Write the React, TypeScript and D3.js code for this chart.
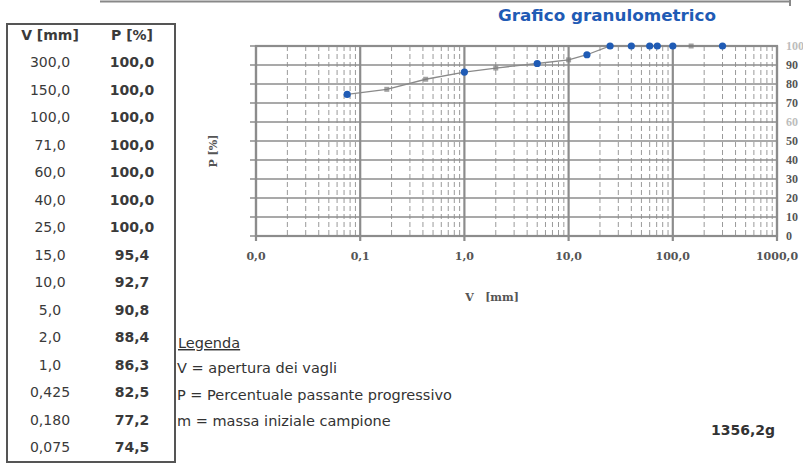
import React from 'react'
import * as d3 from 'd3'

// sieve data (V = opening in mm, P = % passing)
const sieveSizes = [300, 150, 100, 71, 60, 40, 25, 15, 10, 5, 2, 1, 0.425, 0.18, 0.075]
const passing = [100, 100, 100, 100, 100, 100, 100, 95.4, 92.7, 90.8, 88.4, 86.3, 82.5, 77.2, 74.5]
// markers that came out grey on the scan
const fadedSieves = [150, 10, 2, 0.425, 0.18]

const xDecades = [0.01, 0.1, 1, 10, 100, 1000]
const yTicks = [0, 10, 20, 30, 40, 50, 60, 70, 80, 90, 100]
const fadedYTicks = [60, 100]

const legendLines = [
  'V = apertura dei vagli',
  'P = Percentuale passante progressivo',
  'm = massa iniziale campione',
]
const sampleMass = '1356,2g'

const W = 803
const H = 472
const plot = { left: 256, right: 777, top: 46, bottom: 236 }

const comma = (s: string) => s.replace('.', ',')
const fmtV = (v: number) => comma(v >= 1 ? v.toFixed(1) : v.toFixed(3))
const fmtP = (p: number) => comma(p.toFixed(1))
const fmtAxis = (v: number) => comma(d3.format('.1f')(v))

const GRID = '#8c8c8c'
const BLUE = '#1f5bb5'
const TXT = '#3a3a3a'

export default function App() {
  const x = d3.scaleLog().domain([0.01, 1000]).range([plot.left, plot.right])
  const y = d3.scaleLinear().domain([0, 100]).range([plot.bottom, plot.top])

  // minor log lines 2..9 in each decade
  const minor: number[] = []
  xDecades.slice(0, -1).forEach((d) => {
    for (let k = 2; k <= 9; k++) minor.push(d * k)
  })

  const points = sieveSizes
    .map((v, i) => ({ v, p: passing[i] }))
    .sort((a, b) => a.v - b.v)

  const line = d3.line<{ v: number; p: number }>()
    .x((d) => x(d.v))
    .y((d) => y(d.p))

  const rowY = d3.scaleLinear().domain([0, sieveSizes.length - 1]).range([62, 447])

  return (
    <svg width={W} height={H} style={{ position: 'absolute', left: 0, top: 0, background: '#fff' }}>
      {/* scan frame remnants at the top */}
      <line x1={100} x2={790} y1={1.5} y2={1.5} stroke="#888" strokeWidth={2} />
      <line x1={790} x2={790} y1={0} y2={6} stroke="#888" strokeWidth={2} />

      {/* data table */}
      <rect x={7} y={24} width={168} height={438} fill="none" stroke="#555" strokeWidth={2} />
      <g fontFamily="'DejaVu Sans', Verdana, sans-serif" fontSize={14} fill={TXT}>
        <text x={50} y={40} textAnchor="middle" fontWeight="bold">V [mm]</text>
        <text x={132} y={40} textAnchor="middle" fontWeight="bold">P [%]</text>
        {sieveSizes.map((v, i) => (
          <g key={v}>
            <text x={50} y={rowY(i) + 5} textAnchor="middle">{fmtV(v)}</text>
            <text x={132} y={rowY(i) + 5} textAnchor="middle" fontWeight="bold">{fmtP(passing[i])}</text>
          </g>
        ))}
      </g>

      {/* title */}
      <text x={607} y={21} textAnchor="middle" fontFamily="'DejaVu Sans', sans-serif" fontWeight="bold"
        fontSize={15} fill={BLUE} textLength={218} lengthAdjust="spacingAndGlyphs">Grafico granulometrico</text>

      {/* grid */}
      <g>
        {minor.map((m) => (
          <line key={'m' + m} x1={x(m)} x2={x(m)} y1={plot.top} y2={plot.bottom}
            stroke="#9a9a9a" strokeWidth={1} strokeDasharray="5,3" />
        ))}
        {yTicks.map((t) => (
          <line key={'h' + t} x1={plot.left - 6} x2={plot.right} y1={y(t)} y2={y(t)} stroke={GRID} strokeWidth={1.6} />
        ))}
        {xDecades.map((d) => (
          <line key={'v' + d} x1={x(d)} x2={x(d)} y1={plot.top} y2={plot.bottom + 5} stroke={GRID} strokeWidth={2.2} />
        ))}
        <rect x={plot.left} y={plot.top} width={plot.right - plot.left} height={plot.bottom - plot.top}
          fill="none" stroke={GRID} strokeWidth={2.2} />
      </g>

      {/* axis labels */}
      <g fontFamily="'DejaVu Serif', 'Liberation Serif', serif" fontWeight="bold" fontSize={11} fill="#555">
        {xDecades.map((d) => (
          <text key={d} x={x(d)} y={plot.bottom + 24} textAnchor="middle">{fmtAxis(d)}</text>
        ))}
        {yTicks.map((t) => (
          <text key={t} x={plot.right + 9} y={y(t) + 4} fontFamily="'Liberation Serif', serif" fontSize={12}
            fill={fadedYTicks.includes(t) ? '#bdbdbd' : '#555'}>{t}</text>
        ))}
        <text x={492} y={301} textAnchor="middle" fontSize={11} xmlSpace="preserve">V   [mm]</text>
        <text transform={`translate(217,${(plot.top + plot.bottom) / 2 + 10}) rotate(-90)`} textAnchor="middle">P [%]</text>
      </g>

      {/* curve */}
      <path d={line(points) || ''} fill="none" stroke="#8a8a8a" strokeWidth={1.3} />
      {points.map((d) => (
        fadedSieves.includes(d.v)
          ? <rect key={d.v} x={x(d.v) - 2.5} y={y(d.p) - 2.5} width={5} height={5} fill="#7a7a7a" opacity={0.7} />
          : <circle key={d.v} cx={x(d.v)} cy={y(d.p)} r={3.6} fill={BLUE} />
      ))}

      {/* legend */}
      <g fontFamily="'DejaVu Sans', Verdana, sans-serif" fontSize={14.5} fill="#333">
        <text x={178} y={348} textDecoration="underline">Legenda</text>
        {legendLines.map((l, i) => (
          <text key={l} x={177} y={373 + i * 26.5}>{l}</text>
        ))}
        <text x={775} y={435} textAnchor="end" fontWeight="bold" fontSize={14}>{sampleMass}</text>
      </g>
    </svg>
  )
}
